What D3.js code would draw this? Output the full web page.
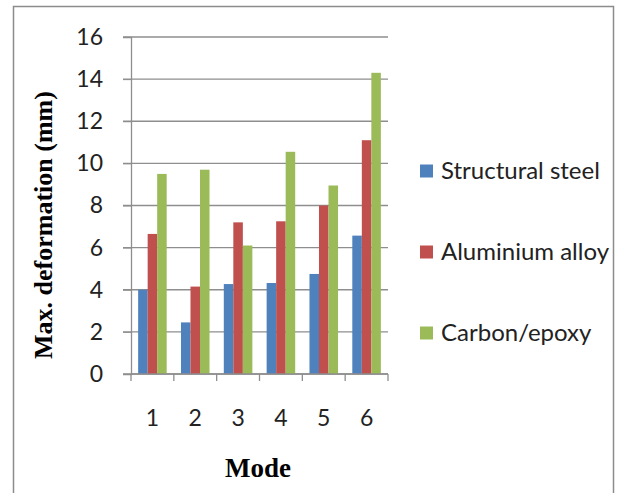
<!DOCTYPE html>
<meta charset="utf-8">
<head>
<script src="https://d3js.org/d3.v7.min.js"></script>
<style>
  body { margin: 0; background: #fff; }
  .tick text { font-family: Lato, "Open Sans", sans-serif; fill: #222; }
</style>
</head>
<body>
<svg id="chart" width="622" height="493"></svg>
<script>
// data
var modes = ["1", "2", "3", "4", "5", "6"];
var seriesNames = ["Structural steel", "Aluminium alloy", "Carbon/epoxy"];
var steel = [4.0, 2.45, 4.27, 4.32, 4.75, 6.57];
var aluminium = [6.65, 4.15, 7.2, 7.25, 8.0, 11.1];
var carbon = [9.5, 9.7, 6.1, 10.55, 8.95, 14.3];
var colors = ["#4f81bd", "#c0504d", "#9bbb59"];
var yTicks = [0, 2, 4, 6, 8, 10, 12, 14, 16];

var series = [steel, aluminium, carbon];

var svg = d3.select("#chart");

// outer frame
svg.append("rect")
  .attr("x", 13.5).attr("y", 6.5)
  .attr("width", 600).attr("height", 495)
  .attr("fill", "none")
  .attr("stroke", "#8c8c8c")
  .attr("stroke-width", 1.5);

var plotLeft = 131, plotRight = 388, plotTop = 37, plotBottom = 374;

var x = d3.scaleBand().domain(modes).range([plotLeft, plotRight]);
// gap width 150% like the spreadsheet default
var xInner = d3.scaleBand().domain(d3.range(3))
  .range([0, x.bandwidth()]).paddingInner(0).paddingOuter(0.75);
var y = d3.scaleLinear().domain([0, 16]).range([plotBottom, plotTop]);

// gridlines
svg.append("g")
  .selectAll("line")
  .data(yTicks)
  .enter()
  .append("line")
  .attr("x1", plotLeft - 8).attr("x2", plotRight)
  .attr("y1", function(d) { return y(d); })
  .attr("y2", function(d) { return y(d); })
  .attr("stroke", "#8e8e8e")
  .attr("stroke-width", 1.3);

// bars
modes.forEach(function(m, i) {
  var g = svg.append("g").attr("transform", "translate(" + x(m) + ",0)");
  series.forEach(function(s, k) {
    g.append("rect")
      .attr("x", xInner(k))
      .attr("width", xInner.bandwidth())
      .attr("y", y(s[i]))
      .attr("height", plotBottom - y(s[i]))
      .attr("fill", colors[k]);
  });
});

// y axis
var yAxis = svg.append("g")
  .attr("transform", "translate(" + plotLeft + ",0)")
  .call(d3.axisLeft(y).tickValues(yTicks).tickSize(8).tickPadding(20));
yAxis.selectAll("text").style("font-size", "23px");
yAxis.select(".domain").attr("stroke", "#8e8e8e").attr("stroke-width", 1.3);
yAxis.selectAll(".tick line").attr("stroke", "#8e8e8e");

// x axis: ticks at category boundaries
var xAxis = svg.append("g")
  .attr("transform", "translate(0," + plotBottom + ")");
xAxis.append("line")
  .attr("x1", plotLeft).attr("x2", plotRight)
  .attr("stroke", "#8e8e8e").attr("stroke-width", 1.3);
xAxis.selectAll(".bt")
  .data(modes.concat(["end"]))
  .enter()
  .append("line")
  .attr("x1", function(d, i) { return plotLeft + i * x.step(); })
  .attr("x2", function(d, i) { return plotLeft + i * x.step(); })
  .attr("y1", 0).attr("y2", 7)
  .attr("stroke", "#8e8e8e").attr("stroke-width", 1.3);
xAxis.selectAll(".lbl")
  .data(modes)
  .enter()
  .append("text")
  .attr("x", function(d) { return x(d) + x.bandwidth() / 2; })
  .attr("y", 52)
  .attr("text-anchor", "middle")
  .style("font-family", "Lato, 'Open Sans', sans-serif")
  .style("font-size", "23px")
  .attr("fill", "#222")
  .text(function(d) { return d; });

// axis titles
svg.append("text")
  .attr("x", 258).attr("y", 477)
  .attr("text-anchor", "middle")
  .style("font-family", "'Liberation Serif', 'Times New Roman', serif")
  .style("font-weight", "bold")
  .style("font-size", "27px")
  .text("Mode");

svg.append("text")
  .attr("transform", "translate(52,225) rotate(-90)")
  .attr("text-anchor", "middle")
  .style("font-family", "'Liberation Serif', 'Times New Roman', serif")
  .style("font-weight", "bold")
  .style("font-size", "26px")
  .text("Max. deformation (mm)");

// legend
var legend = svg.append("g");
seriesNames.forEach(function(name, k) {
  var cy = 171 + k * 81;
  legend.append("rect")
    .attr("x", 420).attr("y", cy - 6.5)
    .attr("width", 13).attr("height", 13)
    .attr("fill", colors[k]);
  legend.append("text")
    .attr("x", 441).attr("y", cy + 8)
    .style("font-family", "Lato, 'Open Sans', sans-serif")
    .style("font-size", "24px")
    .attr("fill", "#222")
    .text(name);
});
</script>
</body>
